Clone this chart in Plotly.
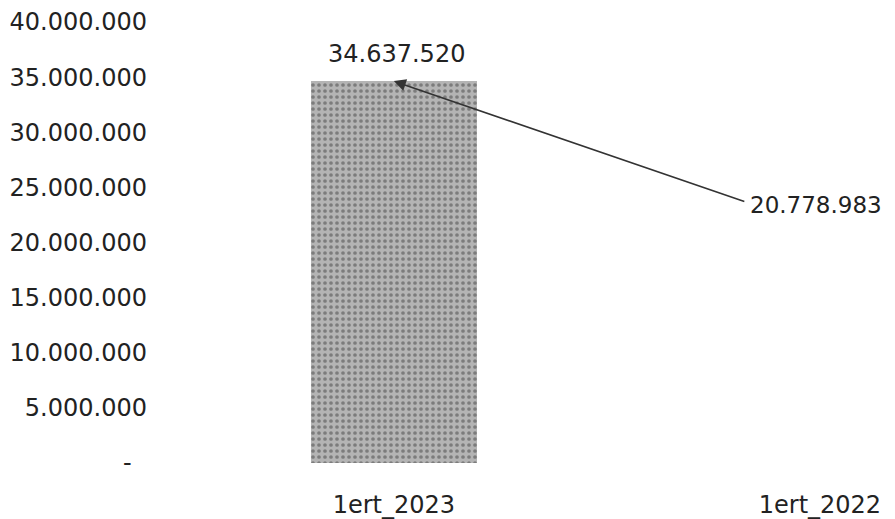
import plotly.graph_objects as go

categories = ["1ert_2023", "1ert_2022"]
values = [34637520, 20778983]
bar_colors = ["#b4b4b4", "#ffffff"]
y_ticks = [0, 5000000, 10000000, 15000000, 20000000, 25000000, 30000000, 35000000, 40000000]


def fmt(v):
    return f"{v:,}".replace(",", ".")


y_ticktext = ["-\u00a0\u00a0" if v == 0 else fmt(v) for v in y_ticks]

FONT = "DejaVu Sans"
TXT = "#222"

fig = go.Figure()
fig.add_trace(go.Bar(
    x=[0, 1], y=values, width=0.39,
    marker=dict(
        color=bar_colors,
        line=dict(width=0),
        pattern=dict(shape=[".", ""], fgcolor="#444444", bgcolor=["#dcdcdc", "#ffffff"],
                     size=6, solidity=0.3),
    ),
    showlegend=False, hoverinfo="skip",
))

# data label for 2023
fig.add_annotation(x=0, y=values[0], text=fmt(values[0]), showarrow=False,
                   yshift=27, xshift=3, font=dict(family=FONT, size=24, color=TXT))
# data label for 2022
fig.add_annotation(x=1, y=values[1], text=fmt(values[1]), showarrow=False,
                   xshift=-4, yshift=29, font=dict(family=FONT, size=23, color=TXT))
# arrow from 2022 label to top of 2023 bar
fig.add_annotation(x=0, y=values[0], text="", showarrow=True,
                   ax=352, ay=121, arrowhead=2, arrowsize=1.5, arrowwidth=1.6,
                   arrowcolor="#333")

fig.update_layout(
    width=895, height=519,
    margin=dict(l=140, r=0, t=14, b=64),
    paper_bgcolor="white", plot_bgcolor="white",
    font=dict(family=FONT, size=24, color=TXT),
    bargap=0,
)
fig.update_xaxes(
    range=[-0.577, 1.195], tickvals=[0, 1], ticktext=categories,
    showgrid=False, zeroline=False, showline=False, ticks="",
    ticklabelstandoff=25, ticklabeloverflow="allow",
    tickfont=dict(family=FONT, size=24, color=TXT),
)
fig.update_yaxes(
    range=[0, 40000000], tickvals=y_ticks, ticktext=y_ticktext,
    showgrid=False, zeroline=False, showline=False, ticks="",
    automargin=False, ticklabeloverflow="allow",
    tickfont=dict(family=FONT, size=24, color=TXT),
)

fig.write_html("out.html")
